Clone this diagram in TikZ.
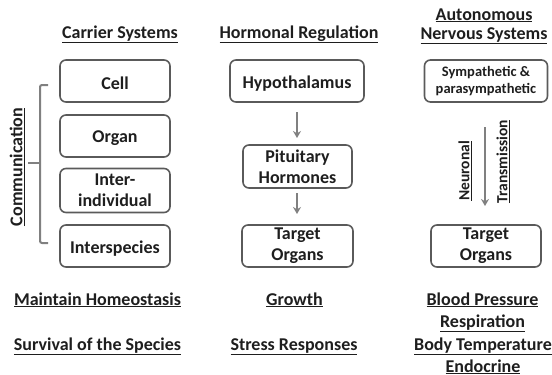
\documentclass[tikz,border=0pt]{standalone}
\usepackage{fontspec}
\setmainfont{Carlito}
\usetikzlibrary{arrows.meta}
\definecolor{boxline}{HTML}{5A5A5A}
\definecolor{arrgray}{HTML}{808080}
\definecolor{txt}{HTML}{1E1E1E}
\newcommand{\ul}[1]{\underline{#1}}
\tikzset{
  big/.style={font=\bfseries\fontsize{18}{21}\selectfont, text=txt},
  small/.style={font=\bfseries\fontsize{14.5}{17}\selectfont, text=txt},
  mid/.style={font=\bfseries\fontsize{15.5}{17}\selectfont, text=txt},
  hdr/.style={big, anchor=base, inner sep=0pt},
  cbox/.style={draw=boxline, line width=1.6pt, rounded corners=6pt, align=center, inner sep=0pt, minimum height=42pt,
    execute at begin node={\rule{0pt}{17pt}}},
  garrow/.style={draw=arrgray, line width=2pt, -{Stealth[length=7pt,width=8pt]}},
  brace/.style={draw=arrgray, line width=2pt, rounded corners=2pt},
}
\begin{document}
\begin{tikzpicture}[x=1pt,y=-1pt]
\useasboundingbox (0,0) rectangle (552,375);
% headers
\node[hdr] (h1) at (120,38) {\ul{Carrier Systems}};
\node[hdr] (h2) at (299,38) {\ul{Hormonal Regulation}};
\node[hdr] (h3a) at (484,20) {\ul{Autonomous}};
\node[hdr] (h3b) at (484,39) {\ul{Nervous Systems}};
% left column
\node[cbox, big, minimum width=110pt] (cell) at (115,81) {Cell};
\node[cbox, big, minimum width=110pt] (organ) at (115,136) {Organ};
\node[cbox, big, minimum width=110pt, minimum height=44pt] (inter) at (115,190.5) {Inter-\\individual};
\node[cbox, big, minimum width=110pt] (spec) at (115,246) {Interspecies};
% brace
\coordinate (bt) at (48,85);
\coordinate (bb) at (48,243);
\coordinate (bm) at (28,163);
\draw[brace] (bt) -- (40,85) -- (40,243) -- (bb);
\draw[brace] (40,163) -- (bm);
\node[big, rotate=90, inner sep=0pt] (comm) at (17,167) {\ul{Communication}};
% middle column
\node[cbox, big, minimum width=134pt] (hypo) at (297,81) {Hypothalamus};
\node[cbox, big, minimum width=109pt, minimum height=43pt] (pit) at (297.5,166.5) {Pituitary\\Hormones};
\node[cbox, big, minimum width=111pt] (tgt1) at (297.5,246) {Target\\Organs};
\coordinate (a1s) at (297,112);
\coordinate (a1e) at (297,138);
\coordinate (a2s) at (297,193);
\coordinate (a2e) at (297,214);
\draw[garrow] (a1s) -- (a1e);
\draw[garrow] (a2s) -- (a2e);
% right column
\node[cbox, small, minimum width=123pt, execute at begin node={\rule{0pt}{14pt}}] (symp) at (486,81) {Sympathetic \&\\parasympathetic};
\node[cbox, big, minimum width=110pt] (tgt2) at (486,246) {Target\\Organs};
\coordinate (a3s) at (485,127);
\coordinate (a3e) at (485,206);
\draw[garrow] (a3s) -- (a3e);
\node[mid, rotate=90, inner sep=0pt] (neu) at (465,171) {\ul{Neuronal}};
\node[mid, rotate=90, inner sep=0pt] (trans) at (503,161.5) {\ul{Transmission}};
% bottom texts
\node[hdr] (b1) at (97.5,305) {\ul{Maintain Homeostasis}};
\node[hdr] (b2) at (97.5,350) {\ul{Survival of the Species}};
\node[hdr] (b3) at (294.5,305) {\ul{Growth}};
\node[hdr] (b4) at (294,350) {\ul{Stress Responses}};
\node[hdr] (b5) at (482.5,305) {\ul{Blood Pressure}};
\node[hdr] (b6) at (482.5,327) {\ul{Respiration}};
\node[hdr] (b7) at (483,350) {\ul{Body Temperature}};
\node[hdr] (b8) at (483,372) {\ul{Endocrine}};
\end{tikzpicture}
\end{document}
